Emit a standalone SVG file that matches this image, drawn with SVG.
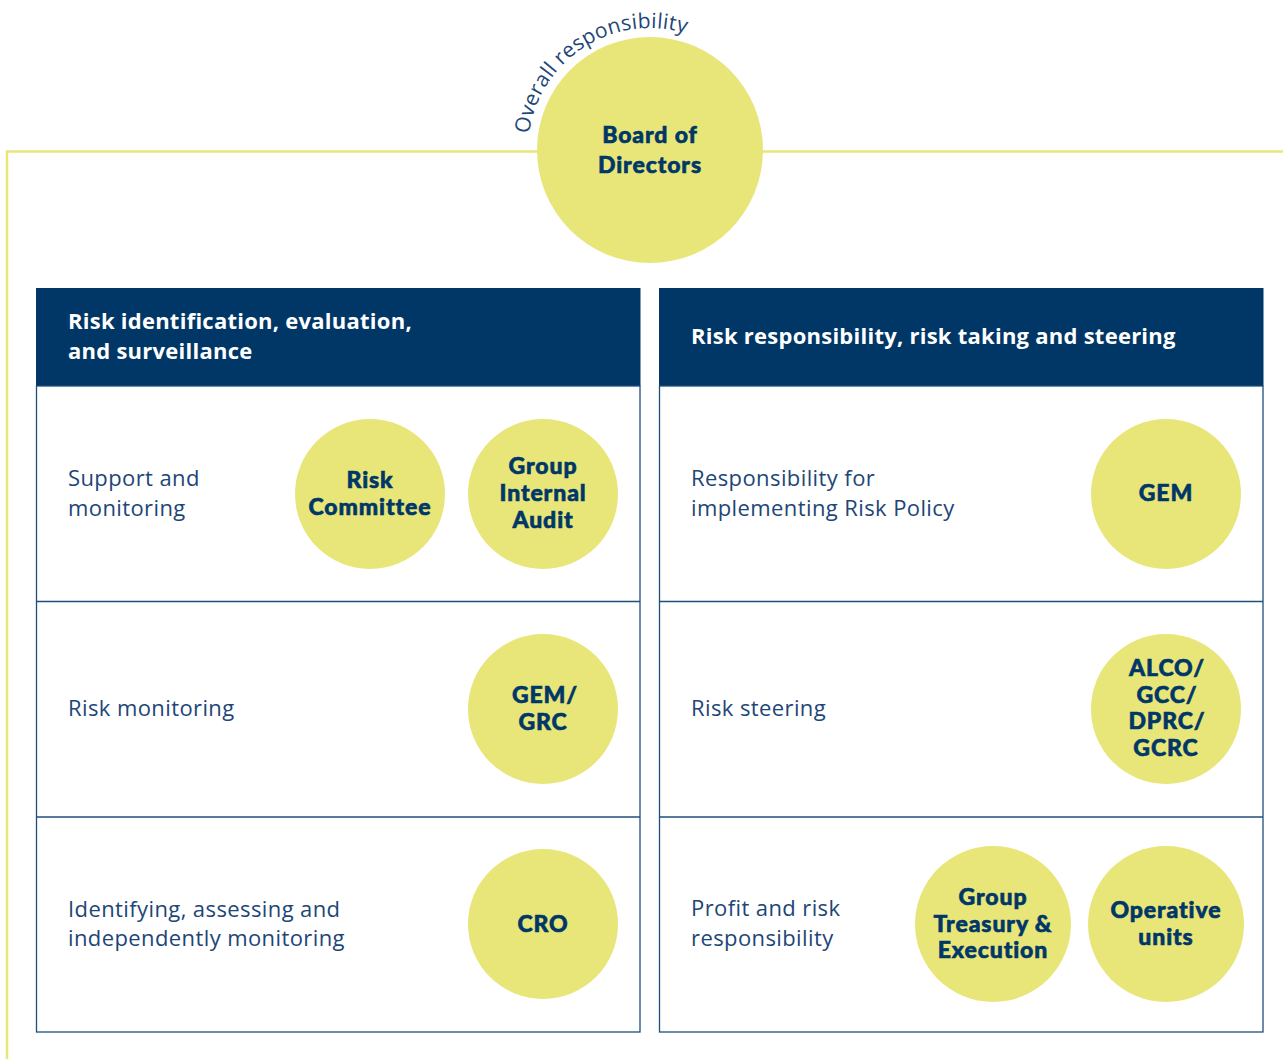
<svg xmlns="http://www.w3.org/2000/svg" width="1283" height="1059" viewBox="0 0 1283 1059">
<defs>
<style>
.blob{fill:#E8E679;}
.bt{font-family:Lato,"Open Sans","Liberation Sans",sans-serif;font-weight:900;font-size:23px;letter-spacing:0.9px;fill:#003767;stroke:#003767;stroke-width:0.6px;text-anchor:middle;}
.lbl{font-family:"Open Sans","Liberation Sans",sans-serif;font-weight:400;font-size:22px;letter-spacing:0.4px;fill:#1D4677;}
.hd{font-family:"Open Sans","Liberation Sans",sans-serif;font-weight:700;font-size:22px;letter-spacing:0.25px;fill:#FFFFFF;}
.arct{font-family:"Open Sans","Liberation Sans",sans-serif;font-size:21px;letter-spacing:0.3px;fill:#1D4677;}
.hdr{fill:#003767;}
.frame{fill:none;stroke:#1F4E7D;stroke-width:1.3;}
.yl{fill:none;stroke:#E8E679;stroke-width:2.5;}
</style>
<path id="arc" d="M 528,150 A 122 122 0 0 1 772,150"/>
</defs>
<rect width="1283" height="1059" fill="#FFFFFF"/>
<g id="connectors">
<path class="yl" d="M 7,1059 L 7,151.5 L 1283,151.5"/>
</g>
<g id="board">
<circle class="blob" cx="650" cy="150" r="113"/>
<text class="bt" font-size="25" letter-spacing="0.6"><tspan x="650" y="143">Board of</tspan><tspan x="650" y="173">Directors</tspan></text>
<text class="arct"><textPath href="#arc" startOffset="16">Overall</textPath></text>
<text class="arct"><textPath href="#arc" startOffset="93">responsibility</textPath></text>
</g>
<g id="left-panel">
<rect class="hdr" x="36" y="288" width="604.5" height="98"/>
<text class="hd"><tspan x="68" y="329">Risk identification, evaluation,</tspan><tspan x="68" y="359">and surveillance</tspan></text>
<rect class="frame" x="36.5" y="386" width="603.5" height="646"/>
<line class="frame" x1="36.5" y1="601.5" x2="640" y2="601.5"/>
<line class="frame" x1="36.5" y1="817" x2="640" y2="817"/>
</g>
<g id="right-panel">
<rect class="hdr" x="659" y="288" width="604.5" height="98"/>
<text class="hd" x="691" y="344">Risk responsibility, risk taking and steering</text>
<rect class="frame" x="659.5" y="386" width="603.5" height="646"/>
<line class="frame" x1="659.5" y1="601.5" x2="1263" y2="601.5"/>
<line class="frame" x1="659.5" y1="817" x2="1263" y2="817"/>
</g>
<g id="row-labels">
<text class="lbl"><tspan x="68" y="486">Support and</tspan><tspan x="68" y="516">monitoring</tspan></text>
<text class="lbl" x="68" y="716">Risk monitoring</text>
<text class="lbl"><tspan x="68" y="917">Identifying, assessing and</tspan><tspan x="68" y="946">independently monitoring</tspan></text>
<text class="lbl"><tspan x="691" y="486">Responsibility for</tspan><tspan x="691" y="516">implementing Risk Policy</tspan></text>
<text class="lbl" x="691" y="716">Risk steering</text>
<text class="lbl"><tspan x="691" y="916">Profit and risk</tspan><tspan x="691" y="946">responsibility</tspan></text>
</g>
<g id="risk-committee">
<circle class="blob" cx="370" cy="494" r="75"/>
<text class="bt"><tspan x="370" y="488">Risk</tspan><tspan x="370" y="515">Committee</tspan></text>
</g>
<g id="group-internal-audit">
<circle class="blob" cx="543" cy="494" r="75"/>
<text class="bt"><tspan x="543" y="474">Group</tspan><tspan x="543" y="501">Internal</tspan><tspan x="543" y="528">Audit</tspan></text>
</g>
<g id="gem">
<circle class="blob" cx="1166" cy="494" r="75"/>
<text class="bt" x="1166" y="501">GEM</text>
</g>
<g id="gem-grc">
<circle class="blob" cx="543" cy="709" r="75"/>
<text class="bt"><tspan x="545" y="703">GEM/</tspan><tspan x="543" y="730">GRC</tspan></text>
</g>
<g id="alco">
<circle class="blob" cx="1166" cy="709" r="75"/>
<text class="bt"><tspan x="1167" y="676">ALCO/</tspan><tspan x="1167" y="703">GCC/</tspan><tspan x="1167" y="729">DPRC/</tspan><tspan x="1166" y="756">GCRC</tspan></text>
</g>
<g id="cro">
<circle class="blob" cx="543" cy="924" r="75"/>
<text class="bt" x="543" y="932">CRO</text>
</g>
<g id="group-treasury">
<circle class="blob" cx="993" cy="924" r="78"/>
<text class="bt"><tspan x="993" y="905">Group</tspan><tspan x="993" y="932">Treasury &amp;</tspan><tspan x="993" y="958">Execution</tspan></text>
</g>
<g id="operative-units">
<circle class="blob" cx="1166" cy="924" r="78"/>
<text class="bt"><tspan x="1166" y="918">Operative</tspan><tspan x="1166" y="945">units</tspan></text>
</g>
</svg>
